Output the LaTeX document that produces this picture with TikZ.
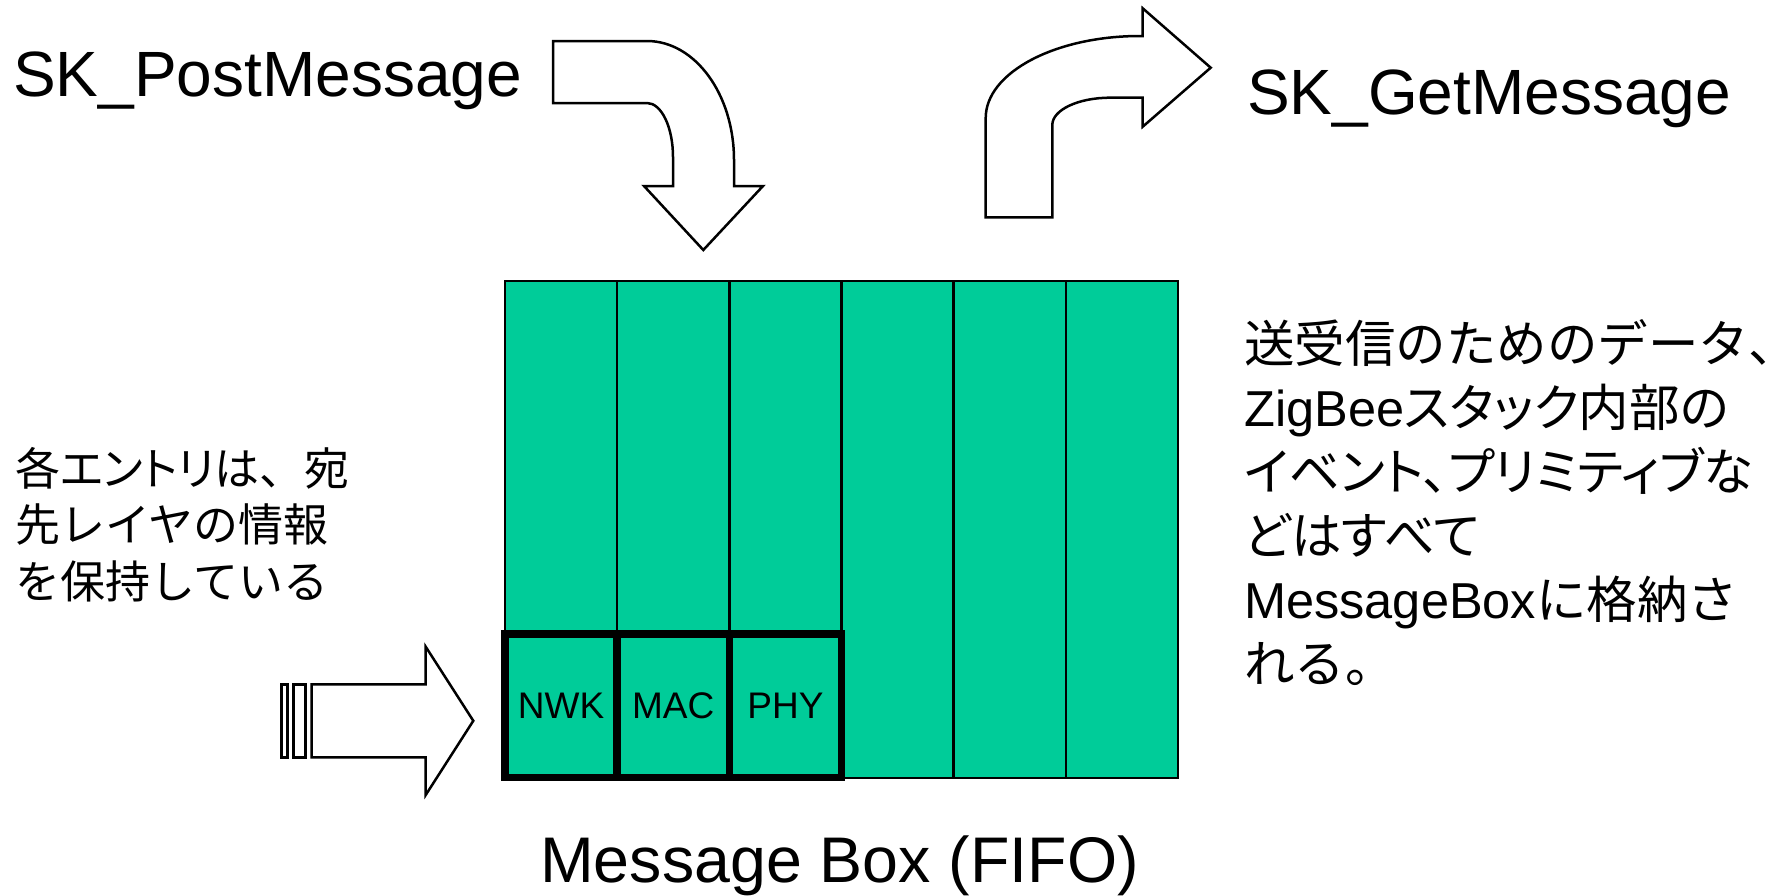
\documentclass[tikz,border=0pt]{standalone}
\usepackage{fontspec}
\setmainfont{Liberation Sans}
\newfontfamily\jp{Noto Sans CJK JP}
% proportional kana widths
\newfontfamily\jpp[RawFeature=+palt]{Noto Sans CJK JP}
\definecolor{boxgreen}{RGB}{0,204,153}
\tikzset{
  blockarrow/.style={draw=black, fill=white, line width=2.5pt, line join=miter},
  cell/.style={draw=black, fill=boxgreen, line width=2.5pt, minimum width=112.17pt,
    minimum height=497pt, inner sep=0pt, outer sep=0pt},
  layer/.style={draw=black, fill=boxgreen, line width=7.5pt, minimum width=112.17pt,
    minimum height=143.5pt, inner sep=0pt, outer sep=0pt, font=\fontsize{37}{44}\selectfont},
  apiname/.style={anchor=base west, inner sep=0pt, font=\fontsize{64}{76}\selectfont},
  caption/.style={anchor=base west, inner sep=0pt, font=\fontsize{64.5}{76}\selectfont},
  noteleft/.style={anchor=base west, inner sep=0pt, font=\jp\fontsize{45}{56}\selectfont},
  noteright/.style={anchor=base west, inner sep=0pt, font=\jp\fontsize{50.5}{64}\selectfont},
}
\begin{document}
\begin{tikzpicture}[x=1pt, y=-1pt]
\useasboundingbox (0,0) rectangle (1789,895);

% message box: six FIFO slots
\foreach \i [evaluate=\i as \cx using 505+112.17*(\i-0.5)] in {1,...,6}
  \node[cell] (slot\i) at (\cx,529.5) {};

% first entry with its layer fields
\node[layer] (nwk) at (561.1,705.5) {NWK};
\node[layer] (mac) at (673.25,705.5) {MAC};
\node[layer] (phy) at (785.4,705.5) {PHY};

\node[caption] (mbox) at (540,882) {Message Box (FIFO)};

% SK_PostMessage: bent arrow into the box
\node[apiname] (post) at (13,96.5) {SK\_PostMessage};
\draw[blockarrow] (553,41) -- (647,41)
  .. controls (695,41) and (734,94.3) .. (734,160)
  -- (734,186) -- (763,186) -- (703.3,250) -- (644,186) -- (673,186) -- (673,157)
  .. controls (673,127.2) and (661.4,103) .. (647,103)
  -- (553,103) -- cycle;

% SK_GetMessage: bent arrow out of the box
\node[apiname] (get) at (1247,114.3) {SK\_GetMessage};
\draw[blockarrow] (985.7,217.3) -- (985.7,118)
  .. controls (985.7,72.7) and (1055,36) .. (1140,36)
  -- (1142.7,36) -- (1142.7,8.3) -- (1210.7,67.7) -- (1142.7,126.7) -- (1142.7,97.7)
  -- (1110,97.7)
  .. controls (1078,97.7) and (1052.3,110) .. (1052.3,125)
  -- (1052.3,217.3) -- cycle;

% striped arrow pointing at the first entry
\draw[blockarrow] (281.7,684.3) rectangle (287.7,757.3);
\draw[blockarrow] (293.7,684.3) rectangle (305.7,757.3);
\draw[blockarrow] (311.7,684.3) -- (425.7,684.3) -- (425.7,646.7) -- (473.3,720.8)
  -- (425.7,795) -- (425.7,757.3) -- (311.7,757.3) -- cycle;

% notes
\node[noteleft] (l1) at (15,485) {各{\jpp エントリ}は、宛};
\node[noteleft] (l2) at (15,541.5) {先レイヤの情報};
\node[noteleft] (l3) at (15,598) {を保持している};

\node[noteright] (r1) at (1244,362) {送受信のためのデータ{\jpp 、}\kern-0.15em};
\node[noteright] (r2) at (1244,426) {{\rmfamily ZigBee}{\jpp スタック内部の}};
\node[noteright] (r3) at (1244,490) {{\jpp イベント、プリミティブな}};
\node[noteright] (r4) at (1244,554) {{\jpp どはすべて}};
\node[noteright] (r5) at (1244,618) {{\rmfamily MessageBox}に格納さ};
\node[noteright] (r6) at (1244,682) {れる。};
\end{tikzpicture}
\end{document}
